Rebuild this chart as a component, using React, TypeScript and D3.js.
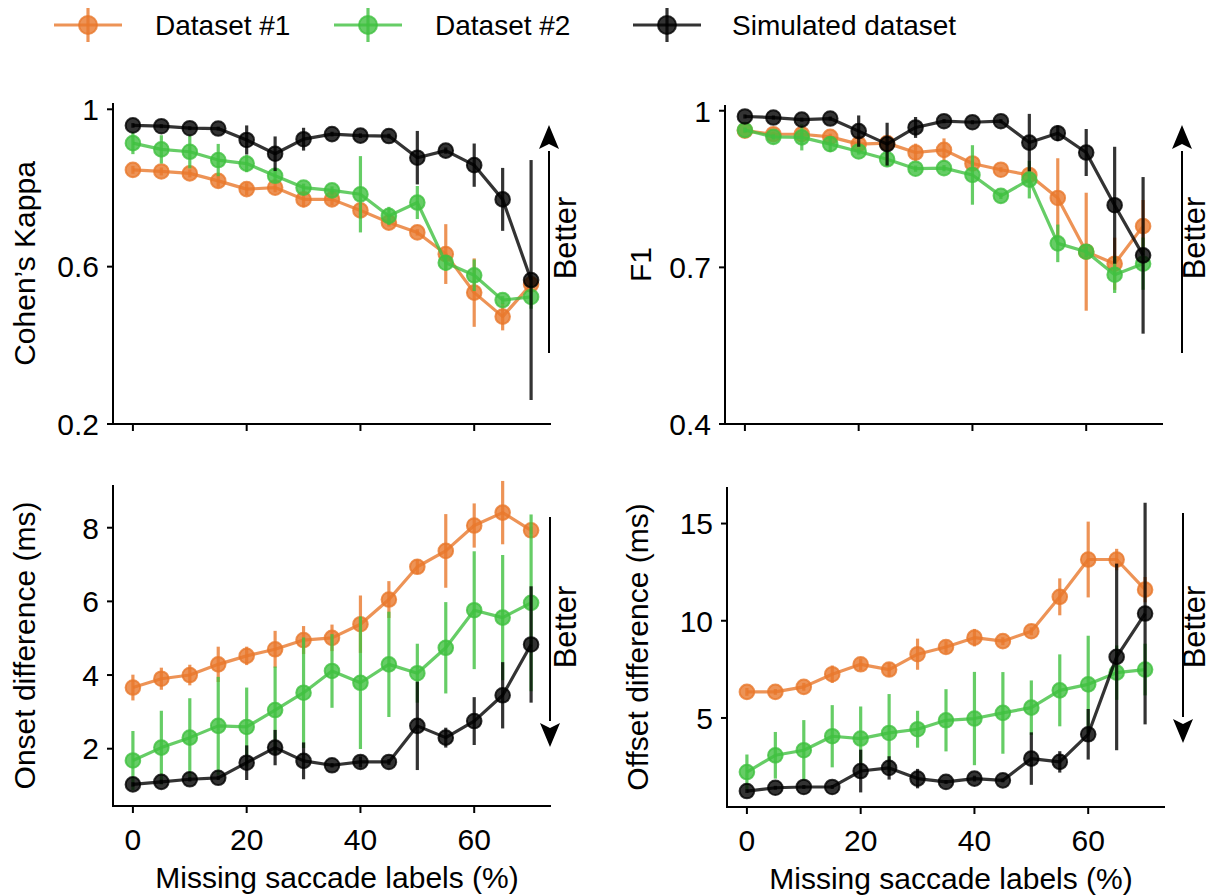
import React from 'react';
import * as d3 from 'd3';

// ---------- data ----------
const missing = [0, 5, 10, 15, 20, 25, 30, 35, 40, 45, 50, 55, 60, 65, 70];

const seriesNames = ['Dataset #1', 'Dataset #2', 'Simulated dataset'];
const seriesColors = ['#E8782C', '#40C040', '#000000'];

// Cohen's Kappa
const kappaD1 = [0.846, 0.842, 0.837, 0.818, 0.797, 0.801, 0.771, 0.771, 0.743, 0.712, 0.687, 0.632, 0.534, 0.473, 0.555];
const kappaD1Err = [0.01, 0.01, 0.01, 0.015, 0.015, 0.012, 0.02, 0.015, 0.02, 0.01, 0.008, 0.076, 0.087, 0.035, 0.02];
const kappaD2 = [0.914, 0.898, 0.892, 0.871, 0.862, 0.831, 0.801, 0.794, 0.784, 0.729, 0.763, 0.61, 0.578, 0.515, 0.523];
const kappaD2Err = [0.028, 0.036, 0.042, 0.041, 0.022, 0.015, 0.01, 0.01, 0.097, 0.023, 0.042, 0.02, 0.04, 0.01, 0.03];
const kappaSim = [0.959, 0.957, 0.952, 0.951, 0.922, 0.887, 0.924, 0.937, 0.933, 0.932, 0.877, 0.895, 0.858, 0.771, 0.566];
const kappaSimErr = [0.006, 0.005, 0.005, 0.005, 0.037, 0.044, 0.029, 0.006, 0.006, 0.006, 0.068, 0.008, 0.055, 0.08, 0.305];

// F1
const f1D1 = [0.962, 0.955, 0.955, 0.95, 0.936, 0.938, 0.92, 0.925, 0.899, 0.887, 0.877, 0.833, 0.73, 0.707, 0.779];
const f1D1Err = [0.005, 0.005, 0.005, 0.006, 0.006, 0.008, 0.017, 0.022, 0.006, 0.005, 0.005, 0.076, 0.113, 0.05, 0.05];
const f1D2 = [0.963, 0.95, 0.949, 0.936, 0.922, 0.907, 0.889, 0.89, 0.877, 0.837, 0.868, 0.746, 0.73, 0.686, 0.707];
const f1D2Err = [0.005, 0.005, 0.025, 0.015, 0.006, 0.015, 0.006, 0.006, 0.057, 0.006, 0.036, 0.036, 0.01, 0.035, 0.05];
const f1Sim = [0.989, 0.987, 0.983, 0.985, 0.961, 0.936, 0.968, 0.98, 0.978, 0.98, 0.939, 0.957, 0.92, 0.819, 0.723];
const f1SimErr = [0.004, 0.004, 0.004, 0.004, 0.03, 0.041, 0.02, 0.004, 0.004, 0.004, 0.055, 0.015, 0.045, 0.112, 0.15];

// Onset difference (ms)
const onsetD1 = [3.66, 3.9, 4.0, 4.29, 4.52, 4.7, 4.95, 5.01, 5.38, 6.05, 6.94, 7.37, 8.06, 8.41, 7.93];
const onsetD1Err = [0.35, 0.3, 0.28, 0.48, 0.25, 0.5, 0.38, 0.36, 0.78, 0.5, 0.2, 1.0, 0.6, 0.86, 0.1];
const onsetD2 = [1.68, 2.03, 2.3, 2.62, 2.59, 3.05, 3.52, 4.11, 3.79, 4.29, 4.05, 4.74, 5.76, 5.56, 5.96];
const onsetD2Err = [0.8, 1.0, 1.07, 1.33, 1.07, 1.18, 1.5, 1.0, 1.8, 1.43, 0.8, 1.24, 1.6, 1.7, 2.4];
const onsetSim = [1.03, 1.1, 1.17, 1.21, 1.62, 2.03, 1.67, 1.55, 1.64, 1.64, 2.62, 2.3, 2.75, 3.45, 4.83];
const onsetSimErr = [0.06, 0.06, 0.06, 0.06, 0.47, 0.48, 0.5, 0.06, 0.15, 0.08, 1.2, 0.27, 0.65, 0.9, 1.58];

// Offset difference (ms)
const offsetD1 = [6.34, 6.34, 6.6, 7.25, 7.76, 7.49, 8.28, 8.65, 9.13, 8.95, 9.46, 11.23, 13.15, 13.15, 11.6];
const offsetD1Err = [0.2, 0.15, 0.2, 0.45, 0.3, 0.35, 0.8, 0.3, 0.45, 0.2, 0.2, 0.95, 1.95, 0.55, 0.65];
const offsetD2 = [2.22, 3.08, 3.34, 4.06, 3.94, 4.23, 4.42, 4.88, 4.97, 5.26, 5.53, 6.42, 6.73, 7.33, 7.49];
const offsetD2Err = [0.9, 1.2, 1.55, 1.6, 1.65, 2.0, 0.95, 1.6, 2.4, 2.1, 1.4, 1.85, 2.5, 1.4, 1.33];
const offsetSim = [1.24, 1.41, 1.45, 1.45, 2.27, 2.43, 1.88, 1.71, 1.88, 1.79, 2.91, 2.74, 4.16, 8.14, 10.37];
const offsetSimErr = [0.1, 0.1, 0.1, 0.1, 1.1, 0.6, 0.5, 0.1, 0.15, 0.1, 1.35, 0.55, 1.3, 4.8, 5.7];

const xTicks = [0, 20, 40, 60];
const kappaTicks = [0.2, 0.6, 1];
const kappaTickLabels = ['0.2', '0.6', '1'];
const f1Ticks = [0.4, 0.7, 1];
const f1TickLabels = ['0.4', '0.7', '1'];
const onsetTicks = [2, 4, 6, 8];
const onsetTickLabels = ['2', '4', '6', '8'];
const offsetTicks = [5, 10, 15];
const offsetTickLabels = ['5', '10', '15'];

const FONT = "'Liberation Sans', Arial, Helvetica, sans-serif";
const ALPHA = 0.8;
const TICK_FS = 30;
const LABEL_FS = 30;

type PanelProps = {
  x0: number; x1: number; yTop: number; yBottom: number;
  yDomain: [number, number];
  yTicks: number[]; yTickLabels: string[];
  showXLabels: boolean;
  ylabel: string; ylabelX: number;
  series: { v: number[]; e: number[] }[];
  arrow: { x: number; y0: number; y1: number; textX: number; textY: number; up: boolean };
};

function Panel(p: PanelProps) {
  const x = d3.scaleLinear().domain([-3.5, 73.5]).range([p.x0, p.x1]);
  const y = d3.scaleLinear().domain(p.yDomain).range([p.yBottom, p.yTop]);
  const line = d3.line<number>().x((_, i) => x(missing[i])).y((d) => y(d));
  const midY = (p.yTop + p.yBottom) / 2;
  const a = p.arrow;
  const head = 24;
  const hw = 10;
  const tipY = a.up ? Math.min(a.y0, a.y1) : Math.max(a.y0, a.y1);
  const baseY = a.up ? tipY + head : tipY - head;
  const tailY = a.up ? Math.max(a.y0, a.y1) : Math.min(a.y0, a.y1);
  return (
    <g>
      {p.series.map((s, si) => (
        <g key={si}>
          <path d={line(s.v) || ''} fill="none" stroke={seriesColors[si]} strokeOpacity={ALPHA} strokeWidth={3.2} strokeLinejoin="round" />
          {s.v.map((v, i) => (
            <circle key={'m' + i} cx={x(missing[i])} cy={y(v)} r={7.3} fill={seriesColors[si]} fillOpacity={ALPHA}
              stroke={seriesColors[si]} strokeOpacity={ALPHA} strokeWidth={2} />
          ))}
          {s.v.map((v, i) => (
            <line key={'e' + i} x1={x(missing[i])} x2={x(missing[i])} y1={y(v - s.e[i])} y2={y(v + s.e[i])}
              stroke={seriesColors[si]} strokeOpacity={ALPHA} strokeWidth={3.2} />
          ))}
        </g>
      ))}
      <line x1={p.x0} x2={p.x0} y1={p.yTop} y2={p.yBottom + 1} stroke="#000" strokeWidth={2} />
      <line x1={p.x0 - 1} x2={p.x1} y1={p.yBottom} y2={p.yBottom} stroke="#000" strokeWidth={2} />
      {xTicks.map((t) => (
        <g key={'xt' + t}>
          <line x1={x(t)} x2={x(t)} y1={p.yBottom} y2={p.yBottom + 7} stroke="#000" strokeWidth={2} />
          {p.showXLabels && (
            <text x={x(t)} y={p.yBottom + 44} textAnchor="middle" fontSize={TICK_FS} fontFamily={FONT} fill="#000">{t}</text>
          )}
        </g>
      ))}
      {p.yTicks.map((t, i) => (
        <g key={'yt' + t}>
          <line x1={p.x0 - 6} x2={p.x0} y1={y(t)} y2={y(t)} stroke="#000" strokeWidth={2} />
          <text x={p.x0 - 14} y={y(t) + 10.8} textAnchor="end" fontSize={TICK_FS} fontFamily={FONT} fill="#000">{p.yTickLabels[i]}</text>
        </g>
      ))}
      {p.showXLabels && (
        <text x={(p.x0 + p.x1) / 2 + 5} y={p.yBottom + 82} textAnchor="middle" fontSize={LABEL_FS} fontFamily={FONT} fill="#000">
          Missing saccade labels (%)
        </text>
      )}
      <text transform={`translate(${p.ylabelX},${midY}) rotate(-90)`} textAnchor="middle" fontSize={LABEL_FS} fontFamily={FONT} fill="#000">
        {p.ylabel}
      </text>
      <line x1={a.x} x2={a.x} y1={tailY} y2={baseY + (a.up ? 2 : -2)} stroke="#000" strokeWidth={2} />
      <path d={`M${a.x},${tipY} L${a.x - hw},${baseY} L${a.x},${baseY + (a.up ? -5 : 5)} L${a.x + hw},${baseY} Z`} fill="#000" />
      <text transform={`translate(${a.textX},${a.textY}) rotate(-90)`} textAnchor="middle" fontSize={31} fontFamily={FONT} fill="#000">
        Better
      </text>
    </g>
  );
}

const legendX = [88, 368, 667];
const legendTextX = [155, 435, 732];

export default function App() {
  return (
    <svg width={1212} height={895} style={{ position: 'absolute', left: 0, top: 0, background: '#fff' }}>
      <rect x={0} y={0} width={1212} height={895} fill="#fff" />
      {seriesNames.map((n, i) => (
        <g key={n}>
          <line x1={legendX[i] - 34} x2={legendX[i] + 34} y1={25} y2={25} stroke={seriesColors[i]} strokeOpacity={ALPHA} strokeWidth={3.2} />
          <line x1={legendX[i]} x2={legendX[i]} y1={8} y2={42} stroke={seriesColors[i]} strokeOpacity={ALPHA} strokeWidth={3.2} />
          <circle cx={legendX[i]} cy={25} r={9} fill={seriesColors[i]} fillOpacity={ALPHA} stroke={seriesColors[i]} strokeOpacity={ALPHA} strokeWidth={2} />
          <text x={legendTextX[i]} y={35} fontSize={28} fontFamily={FONT} fill="#000">{n}</text>
        </g>
      ))}
      <Panel x0={113} x1={551} yTop={103} yBottom={424} yDomain={[0.2, 1.016]}
        yTicks={kappaTicks} yTickLabels={kappaTickLabels} showXLabels={false}
        ylabel="Cohen’s Kappa" ylabelX={35}
        series={[{ v: kappaD1, e: kappaD1Err }, { v: kappaD2, e: kappaD2Err }, { v: kappaSim, e: kappaSimErr }]}
        arrow={{ x: 549, y0: 125, y1: 353, textX: 576, textY: 238, up: true }} />
      <Panel x0={725} x1={1163} yTop={105} yBottom={424} yDomain={[0.4, 1.011]}
        yTicks={f1Ticks} yTickLabels={f1TickLabels} showXLabels={false}
        ylabel="F1" ylabelX={651}
        series={[{ v: f1D1, e: f1D1Err }, { v: f1D2, e: f1D2Err }, { v: f1Sim, e: f1SimErr }]}
        arrow={{ x: 1182, y0: 125, y1: 353, textX: 1205, textY: 238, up: true }} />
      <Panel x0={113} x1={551} yTop={485} yBottom={806} yDomain={[0.444, 9.16]}
        yTicks={onsetTicks} yTickLabels={onsetTickLabels} showXLabels={true}
        ylabel="Onset difference (ms)" ylabelX={35}
        series={[{ v: onsetD1, e: onsetD1Err }, { v: onsetD2, e: onsetD2Err }, { v: onsetSim, e: onsetSimErr }]}
        arrow={{ x: 550, y0: 517, y1: 747, textX: 576, textY: 627, up: false }} />
      <Panel x0={727} x1={1165} yTop={487} yBottom={807} yDomain={[0.42, 16.88]}
        yTicks={offsetTicks} yTickLabels={offsetTickLabels} showXLabels={true}
        ylabel="Offset difference (ms)" ylabelX={648}
        series={[{ v: offsetD1, e: offsetD1Err }, { v: offsetD2, e: offsetD2Err }, { v: offsetSim, e: offsetSimErr }]}
        arrow={{ x: 1183, y0: 513, y1: 743, textX: 1205, textY: 627, up: false }} />
    </svg>
  );
}
